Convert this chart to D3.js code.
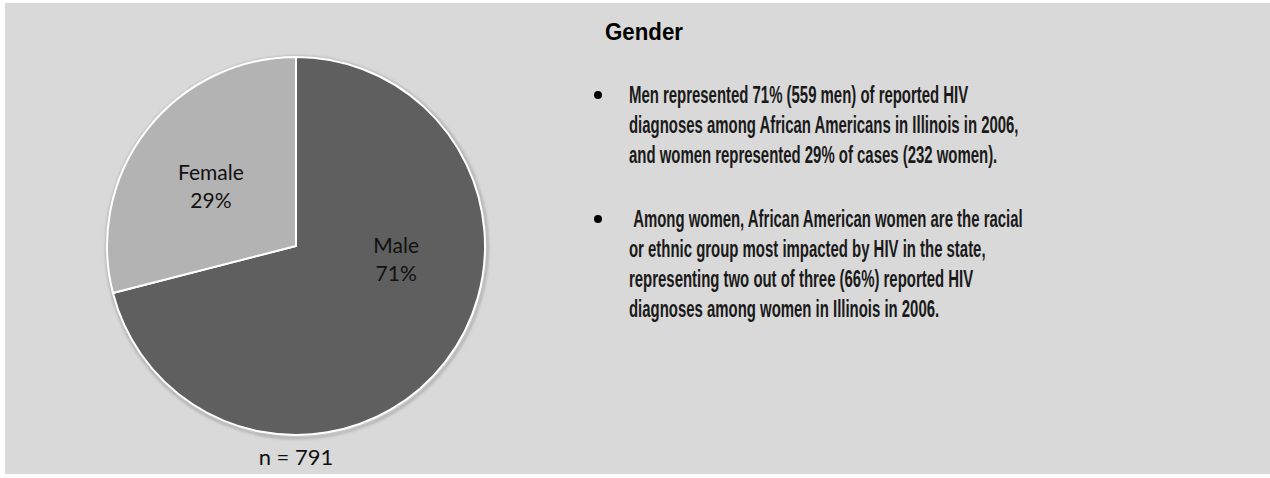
<!DOCTYPE html>
<html><head><meta charset="utf-8">
<script src="https://cdn.jsdelivr.net/npm/d3@7"></script>
<style>
html,body{margin:0;padding:0;background:#fff;}
svg{display:block;}
</style></head><body>
<svg id="chart" width="1270" height="478"></svg>
<script>
// ---- data ----
const categories = ["Male", "Female"];
const percents = [71, 29];
const counts = [559, 232];
const totalLabel = "n = 791";
const title = "Gender";
const bullet1 = [
  "Men represented 71% (559 men) of reported HIV",
  "diagnoses among African Americans in Illinois in 2006,",
  "and women represented 29% of cases (232 women)."
];
const bullet2 = [
  "\u00a0Among women, African American women are the racial",
  "or ethnic group most impacted by HIV in the state,",
  "representing two out of three (66%) reported HIV",
  "diagnoses among women in Illinois in 2006."
];
const sliceColors = ["#5f5f5f", "#b3b3b3"];

// ---- layout ----
const W = 1270, H = 478;
const svg = d3.select("#chart");

svg.append("rect").attr("x", 0).attr("y", 0).attr("width", W).attr("height", H).attr("fill", "#ffffff");
svg.append("rect").attr("x", 5).attr("y", 3).attr("width", W - 5).attr("height", 471).attr("fill", "#d9d9d9");

const cx = 296, cy = 246, R = 189, sxPie = 1.0;

const defs = svg.append("defs");
const f = defs.append("filter").attr("id", "shadow").attr("x", "-10%").attr("y", "-10%").attr("width", "120%").attr("height", "120%");
f.append("feGaussianBlur").attr("stdDeviation", 1.5);

const pie = d3.pie().sort(null).value(d => d)(percents);
const arc = d3.arc().innerRadius(0).outerRadius(R);

const g = svg.append("g").attr("transform", `translate(${cx},${cy})`);
const gp = g.append("g").attr("transform", `scale(${sxPie},1)`);
gp.append("circle").attr("cx", 1).attr("cy", 1.5).attr("r", R + 1.5).attr("fill", "none").attr("stroke", "#a0a0a0").attr("stroke-width", 2).attr("filter", "url(#shadow)");

gp.selectAll("path.slice").data(pie).join("path")
  .attr("class", "slice")
  .attr("d", arc)
  .attr("fill", (d, i) => sliceColors[i])
  .attr("stroke", "#ffffff")
  .attr("stroke-width", 2)
  .attr("vector-effect", "non-scaling-stroke")
  .attr("stroke-linejoin", "miter");

// label anchors as fractions of the pie radius
const labelPos = [{x: 0.53, y: 0.07}, {x: -0.45, y: -0.32}];
const labelFont = "Lato, 'Open Sans', sans-serif";
pie.forEach((d, i) => {
  const x = labelPos[i].x * R * sxPie, y = labelPos[i].y * R;
  const t = g.append("text")
    .attr("text-anchor", "middle")
    .attr("font-family", labelFont)
    .attr("font-size", 21)
    .attr("fill", "#111");
  t.append("tspan").attr("x", x).attr("y", y - 6).text(categories[i]);
  t.append("tspan").attr("x", x).attr("y", y + 22).text(percents[i] + "%");
});

svg.append("text")
  .attr("x", cx).attr("y", cy + R + 30)
  .attr("text-anchor", "middle")
  .attr("font-family", labelFont)
  .attr("font-size", 22)
  .attr("fill", "#111")
  .text(totalLabel);

// ---- text panel ----
const textFont = "'Liberation Sans', Arial, sans-serif";
const tt = svg.append("text")
  .attr("x", 0).attr("y", 0)
  .attr("font-family", textFont)
  .attr("font-weight", "bold")
  .attr("font-size", 24)
  .attr("fill", "#000")
  .text(title);
const titleW = tt.node().getComputedTextLength();
tt.attr("transform", `translate(605,40) scale(${78 / titleW},1)`);

const bodyX = 629, bulletX = 598, lineH = 30, fontSize = 23;
const blocks = [{lines: bullet1, y: 103}, {lines: bullet2, y: 227}];
const targetWidth = 394; // width of the widest line in the reference

const body = svg.append("g");
blocks.forEach(b => {
  body.append("circle").attr("cx", bulletX).attr("cy", b.y - 8).attr("r", 4).attr("fill", "#000");
});
const tg = body.append("g").attr("class", "bodytext");
blocks.forEach(b => {
  b.lines.forEach((ln, j) => {
    tg.append("text")
      .attr("x", 0).attr("y", b.y + j * lineH)
      .attr("font-family", textFont)
      .attr("font-weight", "bold")
      .attr("font-size", fontSize)
      .attr("fill", "#1a1a1a")
      .text(ln);
  });
});
let maxW = 0;
tg.selectAll("text").each(function(){ maxW = Math.max(maxW, this.getComputedTextLength()); });
const sx = targetWidth / maxW;
tg.attr("transform", `translate(${bodyX},0) scale(${sx},1)`);
</script>
</body></html>
